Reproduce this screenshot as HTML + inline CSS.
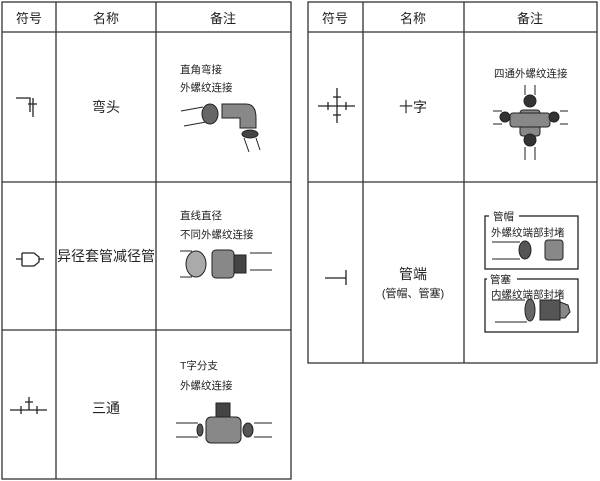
<!DOCTYPE html>
<html><head><meta charset="utf-8"><style>
html,body{margin:0;padding:0;background:#fff;}
svg{display:block;}
text{font-family:"Liberation Sans","Noto Sans CJK SC",sans-serif;fill:#222;}
</style></head><body>
<svg width="600" height="481" viewBox="0 0 600 481" xmlns="http://www.w3.org/2000/svg">
<g fill="none" stroke="#333" stroke-width="1.3">
<rect x="2" y="2" width="289" height="477"/>
<line x1="56" y1="2" x2="56" y2="479"/><line x1="156" y1="2" x2="156" y2="479"/>
<line x1="2" y1="32" x2="291" y2="32"/><line x1="2" y1="182" x2="291" y2="182"/><line x1="2" y1="330" x2="291" y2="330"/>
<rect x="308" y="2" width="289" height="361"/>
<line x1="363" y1="2" x2="363" y2="363"/><line x1="464" y1="2" x2="464" y2="363"/>
<line x1="308" y1="32" x2="597" y2="32"/><line x1="308" y1="182" x2="597" y2="182"/>
</g>
<g font-size="13" text-anchor="middle">
<text x="29" y="23">符号</text><text x="106" y="23">名称</text><text x="223" y="23">备注</text>
<text x="335" y="23">符号</text><text x="413" y="23">名称</text><text x="530" y="23">备注</text>
</g>
<g font-size="14" text-anchor="middle">
<text x="106" y="112">弯头</text><text x="106" y="261">异径套管减径管</text><text x="106" y="413">三通</text>
<text x="413" y="112">十字</text><text x="413" y="279">管端</text>
<text x="413" y="297" font-size="11">(管帽、管塞)</text>
</g>
<g stroke="#222" stroke-width="1.3" fill="none">
<path d="M16 98H30V112M28 104H37M33 98V117"/>
<path d="M16 259H22M22 253V266M22 253H34L39 257V262L34 266H22M39 259H44"/>
<path d="M10 410H47M21 406V414M37 406V414M29 397V410M25 402H33"/>
<path d="M318 106H355M337 88V123M328 102V110M346 102V110M333 97H341M333 115H341"/>
<path d="M325 278H346M346 270V285"/>
<rect x="485" y="216" width="93" height="53"/>
<rect x="485" y="279" width="93" height="53"/>
</g>
<rect x="489" y="210" width="30" height="12" fill="#fff"/>
<rect x="487" y="273" width="30" height="12" fill="#fff"/>
<g font-size="10.5">
<text x="180" y="73">直角弯接</text><text x="180" y="91">外螺纹连接</text>
<text x="180" y="219">直线直径</text><text x="180" y="238">不同外螺纹连接</text>
<text x="180" y="369">T字分支</text><text x="180" y="389">外螺纹连接</text>
<text x="494" y="77">四通外螺纹连接</text>
<text x="493" y="220">管帽</text><text x="491" y="236">外螺纹端部封堵</text>
<text x="490" y="283">管塞</text><text x="491" y="298">内螺纹端部封堵</text>
</g>
<g stroke="#222" fill="#888">
<path d="M181 111L203 107M184 126L206 122" fill="none"/>
<ellipse cx="210" cy="114" rx="8" ry="10" fill="#666"/>
<path d="M222 104H246Q256 104 256 118V128H240V118H222Z"/>
<ellipse cx="250" cy="134" rx="8" ry="4" fill="#444"/>
<path d="M244 138L249 152M256 138L260 150" fill="none"/>
<path d="M180 251H192M180 277H192" fill="none"/>
<ellipse cx="196" cy="264" rx="10" ry="13" fill="#aaa"/>
<rect x="212" y="250" width="22" height="28" rx="4"/>
<rect x="234" y="255" width="12" height="18" fill="#444"/>
<path d="M250 253H272M250 270H272" fill="none"/>
<path d="M176 423H198M176 437H198" fill="none"/>
<ellipse cx="200" cy="430" rx="3" ry="6" fill="#555"/>
<rect x="206" y="417" width="35" height="26" rx="5"/>
<rect x="216" y="403" width="14" height="14" fill="#444"/>
<ellipse cx="248" cy="430" rx="5" ry="7" fill="#555"/>
<path d="M254 423H272M254 437H272" fill="none"/>
<rect x="520" y="110" width="20" height="26" rx="3"/>
<rect x="510" y="113" width="40" height="14" rx="3"/>
<circle cx="530" cy="101" r="6" fill="#333"/><circle cx="530" cy="140" r="6" fill="#333"/>
<circle cx="505" cy="117" r="5" fill="#333"/><circle cx="554" cy="117" r="5" fill="#333"/>
<path d="M493 111H502M493 124H502M560 111H568M560 124H568M525 85V95M535 85V95M525 147V160M535 147V160" fill="none"/>
<path d="M492 242H520M492 259H520M492 300H525M495 322H527" fill="none"/>
<ellipse cx="525" cy="250" rx="6" ry="9" fill="#555"/>
<rect x="545" y="240" width="18" height="20" rx="3"/>
<ellipse cx="530" cy="310" rx="5" ry="11" fill="#666"/>
<rect x="540" y="300" width="20" height="20" fill="#555"/>
<polygon points="560,302 568,305 570,312 565,318 560,318"/>
</g>
</svg>
</body></html>
